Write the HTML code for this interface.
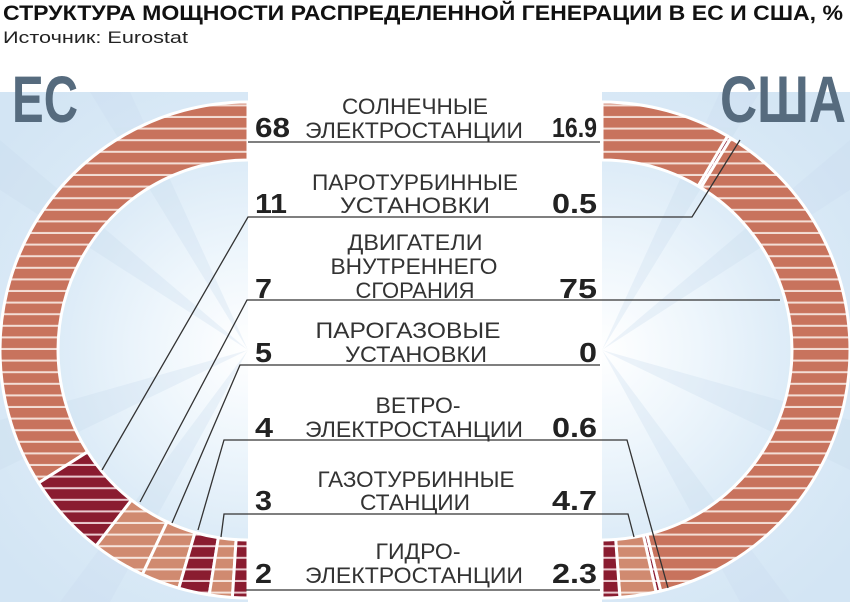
<!DOCTYPE html>
<html><head><meta charset="utf-8"><style>
html,body{margin:0;padding:0;background:#fff;}
svg{display:block;font-family:"Liberation Sans",sans-serif;}
</style></head><body>
<svg width="850" height="602" viewBox="0 0 850 602" xmlns="http://www.w3.org/2000/svg">
<defs>
<pattern id="pS" patternUnits="userSpaceOnUse" width="850" height="11.6" y="2"><rect width="850" height="11.6" fill="#c8735d"/><rect y="9.6" width="850" height="2" fill="#f3ddd5"/></pattern>
<pattern id="pL" patternUnits="userSpaceOnUse" width="850" height="11.6" y="2"><rect width="850" height="11.6" fill="#d08a70"/><rect y="9.6" width="850" height="2" fill="#f6e4dc"/></pattern>
<pattern id="pD" patternUnits="userSpaceOnUse" width="850" height="11.6" y="2"><rect width="850" height="11.6" fill="#8a1c30"/><rect y="9.6" width="850" height="2" fill="#e9c9cf"/></pattern>
<radialGradient id="gL" cx="248" cy="350" r="320" gradientUnits="userSpaceOnUse"><stop offset="0" stop-color="#ffffff"/><stop offset="0.3" stop-color="#eef6fc"/><stop offset="0.6" stop-color="#dcebf7"/><stop offset="1" stop-color="#d3e5f4"/></radialGradient>
<radialGradient id="gR" cx="602" cy="350" r="320" gradientUnits="userSpaceOnUse"><stop offset="0" stop-color="#ffffff"/><stop offset="0.3" stop-color="#eef6fc"/><stop offset="0.6" stop-color="#dcebf7"/><stop offset="1" stop-color="#d3e5f4"/></radialGradient>
</defs>
<rect x="0" y="92" width="248" height="510" fill="url(#gL)"/>
<rect x="602" y="92" width="248" height="510" fill="url(#gR)"/>
<g fill="#c9dcee" opacity="0.3">
<polygon points="248,350 0,140 0,190"/><polygon points="248,350 90,92 130,92"/><polygon points="248,350 0,420 0,470"/>
<polygon points="248,350 60,602 110,602"/>
<polygon points="602,350 850,140 850,190"/><polygon points="602,350 760,92 720,92"/><polygon points="602,350 850,420 850,470"/>
<polygon points="602,350 790,602 740,602"/>
</g>
<rect x="248" y="92" width="354" height="510" fill="#fff"/>

<g stroke="#fff" stroke-width="3" stroke-linejoin="round">
<path fill="url(#pS)" d="M248,102 A248,248 0 0 0 38.6,482.9 L87.6,451.8 A190,190 0 0 1 248,160 Z"/>
<path fill="url(#pD)" d="M38.6,482.9 A248,248 0 0 0 96,546 L131.5,500.1 A190,190 0 0 1 87.6,451.8 Z"/>
<path fill="url(#pL)" d="M96,546 A248,248 0 0 0 142.4,574.4 L167.1,521.9 A190,190 0 0 1 131.5,500.1 Z"/>
<path fill="url(#pL)" d="M142.4,574.4 A248,248 0 0 0 178.8,588.2 L195,532.5 A190,190 0 0 1 167.1,521.9 Z"/>
<path fill="url(#pD)" d="M178.8,588.2 A248,248 0 0 0 209.2,594.9 L218.3,537.7 A190,190 0 0 1 195,532.5 Z"/>
<path fill="url(#pL)" d="M209.2,594.9 A248,248 0 0 0 232.4,597.5 L236.1,539.6 A190,190 0 0 1 218.3,537.7 Z"/>
<path fill="url(#pD)" d="M232.4,597.5 A248,248 0 0 0 248,598 L248,540 A190,190 0 0 1 236.1,539.6 Z"/>
</g>
<g stroke="#fff" stroke-width="3" stroke-linejoin="round">
<path fill="url(#pS)" d="M602,102 A248,248 0 0 1 727.6,136.1 L698.2,186.1 A190,190 0 0 0 602,160 Z"/>
<path fill="url(#pD)" d="M727.6,136.1 A248,248 0 0 1 730.9,138.2 L700.8,187.7 A190,190 0 0 0 698.2,186.1 Z"/>
<path fill="url(#pS)" d="M730.9,138.2 A248,248 0 0 1 660.7,591 L646.9,534.6 A190,190 0 0 0 700.8,187.7 Z"/>
<path fill="url(#pD)" d="M660.7,591 A248,248 0 0 1 656.1,592 L643.4,535.4 A190,190 0 0 0 646.9,534.6 Z"/>
<path fill="url(#pL)" d="M656.1,592 A248,248 0 0 1 619.9,597.4 L615.7,539.5 A190,190 0 0 0 643.4,535.4 Z"/>
<path fill="url(#pD)" d="M619.9,597.4 A248,248 0 0 1 602,598 L602,540 A190,190 0 0 0 615.7,539.5 Z"/>
</g>

<g stroke="#333" stroke-width="1.3" fill="none">
<polyline points="248,142 600,142"/>
<polyline points="102,470 248,217 600,217 692,217 740,140"/>
<polyline points="140,502 247,300 600,300 780,300"/>
<polyline points="172,523 240,365 600,365"/>
<polyline points="198,530 224,440 600,440 627,440 668,588"/>
<polyline points="221,537 224,514 600,514 628,514 634,537"/>
<polyline points="246,590 600,590"/>
</g>

<text x="3" y="20" font-size="21" font-weight="bold" fill="#111" textLength="840" lengthAdjust="spacingAndGlyphs">СТРУКТУРА МОЩНОСТИ РАСПРЕДЕЛЕННОЙ ГЕНЕРАЦИИ В ЕС И США, %</text>
<text x="3" y="43" font-size="17" fill="#222" textLength="185" lengthAdjust="spacingAndGlyphs">Источник: Eurostat</text>
<text x="12" y="122" font-size="66" font-weight="bold" fill="#566b7e" textLength="66" lengthAdjust="spacingAndGlyphs">ЕС</text>
<text x="720" y="122" font-size="66" font-weight="bold" fill="#566b7e" textLength="126" lengthAdjust="spacingAndGlyphs">США</text>

<g font-size="22" fill="#333" text-anchor="middle">
<text x="415" y="114" textLength="146" lengthAdjust="spacingAndGlyphs">СОЛНЕЧНЫЕ</text>
<text x="414" y="138" textLength="218" lengthAdjust="spacingAndGlyphs">ЭЛЕКТРОСТАНЦИИ</text>
<text x="415" y="190" textLength="206" lengthAdjust="spacingAndGlyphs">ПАРОТУРБИННЫЕ</text>
<text x="415" y="213" textLength="150" lengthAdjust="spacingAndGlyphs">УСТАНОВКИ</text>
<text x="415" y="250" textLength="135" lengthAdjust="spacingAndGlyphs">ДВИГАТЕЛИ</text>
<text x="414" y="274" textLength="167" lengthAdjust="spacingAndGlyphs">ВНУТРЕННЕГО</text>
<text x="415" y="298" textLength="119" lengthAdjust="spacingAndGlyphs">СГОРАНИЯ</text>
<text x="408" y="338" textLength="185" lengthAdjust="spacingAndGlyphs">ПАРОГАЗОВЫЕ</text>
<text x="416" y="362" textLength="142" lengthAdjust="spacingAndGlyphs">УСТАНОВКИ</text>
<text x="418" y="413" textLength="85" lengthAdjust="spacingAndGlyphs">ВЕТРО-</text>
<text x="414" y="437" textLength="218" lengthAdjust="spacingAndGlyphs">ЭЛЕКТРОСТАНЦИИ</text>
<text x="416" y="487" textLength="197" lengthAdjust="spacingAndGlyphs">ГАЗОТУРБИННЫЕ</text>
<text x="415" y="510" textLength="110" lengthAdjust="spacingAndGlyphs">СТАНЦИИ</text>
<text x="418" y="559" textLength="85" lengthAdjust="spacingAndGlyphs">ГИДРО-</text>
<text x="414" y="583" textLength="218" lengthAdjust="spacingAndGlyphs">ЭЛЕКТРОСТАНЦИИ</text>
</g>
<g font-size="28" font-weight="bold" fill="#222">
<text x="255" y="137" textLength="35" lengthAdjust="spacingAndGlyphs">68</text>
<text x="255" y="213" textLength="32" lengthAdjust="spacingAndGlyphs">11</text>
<text x="255" y="298" textLength="17" lengthAdjust="spacingAndGlyphs">7</text>
<text x="255" y="362" textLength="17" lengthAdjust="spacingAndGlyphs">5</text>
<text x="255" y="437" textLength="18" lengthAdjust="spacingAndGlyphs">4</text>
<text x="255" y="510" textLength="17" lengthAdjust="spacingAndGlyphs">3</text>
<text x="255" y="583" textLength="17" lengthAdjust="spacingAndGlyphs">2</text>
</g>
<g font-size="28" font-weight="bold" fill="#222" text-anchor="end">
<text x="597" y="137" textLength="45" lengthAdjust="spacingAndGlyphs">16.9</text>
<text x="597" y="213" textLength="45" lengthAdjust="spacingAndGlyphs">0.5</text>
<text x="597" y="298" textLength="38" lengthAdjust="spacingAndGlyphs">75</text>
<text x="597" y="362" textLength="18" lengthAdjust="spacingAndGlyphs">0</text>
<text x="597" y="437" textLength="45" lengthAdjust="spacingAndGlyphs">0.6</text>
<text x="597" y="510" textLength="45" lengthAdjust="spacingAndGlyphs">4.7</text>
<text x="597" y="583" textLength="45" lengthAdjust="spacingAndGlyphs">2.3</text>
</g>
</svg>
</body></html>
